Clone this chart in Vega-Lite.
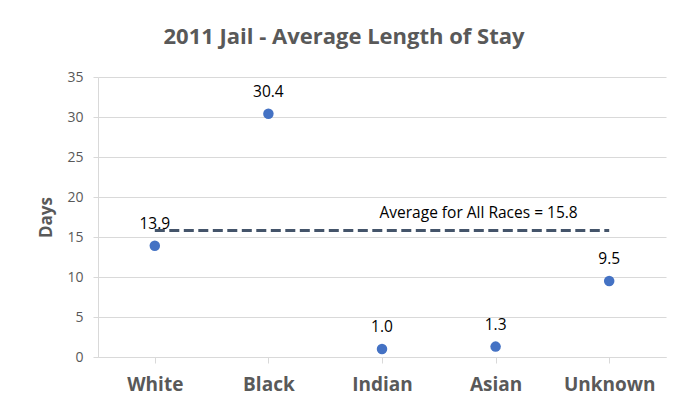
{
  "$schema": "https://vega.github.io/schema/vega-lite/v6.json",
  "autosize": {"type": "none"},
  "width": 568,
  "height": 280,
  "padding": {"left": 98, "top": 77, "right": 8, "bottom": 50},
  "background": "white",
  "title": {
    "text": "2011 Jail - Average Length of Stay",
    "fontSize": 22,
    "fontWeight": "bold",
    "color": "#595959",
    "font": "Open Sans",
    "anchor": "middle",
    "dx": -38,
    "offset": 21
  },
  "config": {
    "view": {"stroke": null},
    "font": "Open Sans",
    "axis": {
      "labelColor": "#595959",
      "titleColor": "#595959",
      "domainColor": "#d9d9d9",
      "tickColor": "#d9d9d9",
      "gridColor": "#d9d9d9",
      "labelFont": "Open Sans",
      "titleFont": "Open Sans"
    }
  },
  "datasets": {
    "races": [
      {"race": "White", "days": 13.9, "avg": 15.8},
      {"race": "Black", "days": 30.4, "avg": 15.8},
      {"race": "Indian", "days": 1.0, "avg": 15.8},
      {"race": "Asian", "days": 1.3, "avg": 15.8},
      {"race": "Unknown", "days": 9.5, "avg": 15.8}
    ],
    "note": [
      {"race": "Asian", "avg": 15.8, "label": "Average for All Races = 15.8"}
    ]
  },
  "encoding": {
    "x": {
      "field": "race",
      "type": "nominal",
      "sort": null,
      "scale": {"domain": ["White", "Black", "Indian", "Asian", "Unknown"], "paddingInner": 0, "paddingOuter": 0},
      "axis": {
        "title": null,
        "labelAngle": 0,
        "labelFontSize": 19,
        "labelFontWeight": "bold",
        "labelPadding": 12,
        "tickSize": 6,
        "bandPosition": 0,
        "grid": false,
        "domainColor": "#d9d9d9"
      }
    }
  },
  "layer": [
    {
      "data": {"name": "races"},
      "mark": {"type": "line", "color": "#44546A", "strokeWidth": 3, "strokeDash": [10, 4.5]},
      "encoding": {
        "y": {
          "field": "avg",
          "type": "quantitative",
          "scale": {"domain": [0, 35], "nice": false},
          "axis": {
            "title": "Days",
            "titleFontSize": 17,
            "titleFontWeight": "bold",
            "titlePadding": 11,
            "values": [0, 5, 10, 15, 20, 25, 30, 35],
            "tickCount": 8,
            "labelFontSize": 14,
            "labelPadding": 10,
            "tickSize": 5,
            "grid": true
          }
        }
      }
    },
    {
      "data": {"name": "races"},
      "mark": {"type": "point", "filled": true, "opacity": 1, "size": 110, "color": "#4472C4"},
      "encoding": {
        "y": {
          "field": "days",
          "type": "quantitative",
          "scale": {"domain": [0, 35], "nice": false},
          "axis": {
            "title": "Days",
            "titleFontSize": 17,
            "titleFontWeight": "bold",
            "titlePadding": 11,
            "values": [0, 5, 10, 15, 20, 25, 30, 35],
            "tickCount": 8,
            "labelFontSize": 14,
            "labelPadding": 10,
            "tickSize": 5,
            "grid": true
          }
        }
      }
    },
    {
      "data": {"name": "races"},
      "mark": {"type": "text", "dy": -22, "fontSize": 15.5, "color": "#000000", "font": "Open Sans"},
      "encoding": {
        "y": {
          "field": "days",
          "type": "quantitative",
          "axis": {
            "title": "Days",
            "values": [0, 5, 10, 15, 20, 25, 30, 35],
            "tickCount": 8
          }
        },
        "text": {"field": "days", "type": "quantitative", "format": ".1f"}
      }
    },
    {
      "data": {"name": "note"},
      "mark": {"type": "text", "dy": -18, "dx": -17, "fontSize": 15.5, "color": "#000000", "font": "Open Sans"},
      "encoding": {
        "y": {
          "field": "avg",
          "type": "quantitative",
          "axis": {
            "title": "Days",
            "values": [0, 5, 10, 15, 20, 25, 30, 35],
            "tickCount": 8
          }
        },
        "text": {"field": "label"}
      }
    }
  ]
}
